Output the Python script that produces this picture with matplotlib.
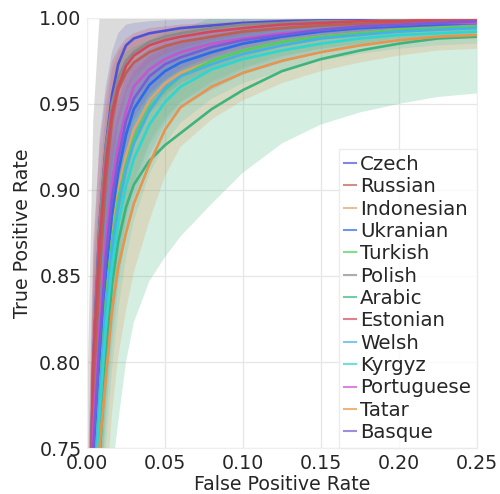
import matplotlib
matplotlib.use("Agg")
import matplotlib.pyplot as plt
import numpy as np

FPR = [0.0, 0.004, 0.008, 0.012, 0.016, 0.02, 0.025, 0.03, 0.04, 0.05, 0.06, 0.08, 0.1, 0.125, 0.15, 0.175, 0.2, 0.225, 0.25]

LANGUAGES = ["Czech", "Russian", "Indonesian", "Ukranian", "Turkish", "Polish", "Arabic",
             "Estonian", "Welsh", "Kyrgyz", "Portuguese", "Tatar", "Basque"]
COLORS = ["#4f52d6", "#b8634f", "#e0a468", "#2f6ae8", "#4fcf5f", "#8a8a8a", "#3db47e",
          "#d04a5e", "#45b2e6", "#2ed6d0", "#c855cc", "#e6944e", "#7a5cd6"]

TPR_CZECH      = [0.62, 0.80, 0.88, 0.925, 0.955, 0.973, 0.984, 0.988, 0.991, 0.9925, 0.994, 0.9955, 0.997, 0.998, 0.9985, 0.999, 0.999, 0.999, 0.999]
TPR_RUSSIAN    = [0.60, 0.78, 0.85, 0.905, 0.940, 0.958, 0.968, 0.974, 0.980, 0.9835, 0.986, 0.989, 0.992, 0.994, 0.9955, 0.9965, 0.997, 0.9975, 0.998]
TPR_INDONESIAN = [0.55, 0.73, 0.79, 0.840, 0.875, 0.900, 0.920, 0.935, 0.952, 0.962, 0.968, 0.975, 0.981, 0.986, 0.989, 0.991, 0.993, 0.994, 0.995]
TPR_UKRANIAN   = [0.56, 0.74, 0.80, 0.850, 0.885, 0.910, 0.932, 0.947, 0.961, 0.969, 0.974, 0.980, 0.985, 0.989, 0.992, 0.994, 0.995, 0.996, 0.997]
TPR_TURKISH    = [0.55, 0.72, 0.78, 0.835, 0.870, 0.895, 0.915, 0.930, 0.948, 0.958, 0.966, 0.975, 0.981, 0.986, 0.989, 0.991, 0.993, 0.994, 0.995]
TPR_POLISH     = [0.62, 0.80, 0.88, 0.925, 0.950, 0.965, 0.975, 0.980, 0.986, 0.989, 0.991, 0.994, 0.996, 0.997, 0.998, 0.998, 0.999, 0.999, 0.999]
TPR_ARABIC     = [0.52, 0.68, 0.745, 0.800, 0.845, 0.870, 0.890, 0.903, 0.917, 0.926, 0.933, 0.947, 0.958, 0.969, 0.976, 0.981, 0.985, 0.988, 0.989]
TPR_ESTONIAN   = [0.62, 0.80, 0.87, 0.915, 0.945, 0.960, 0.972, 0.978, 0.984, 0.987, 0.989, 0.992, 0.994, 0.996, 0.997, 0.998, 0.998, 0.999, 0.999]
TPR_WELSH      = [0.55, 0.72, 0.78, 0.830, 0.865, 0.890, 0.912, 0.927, 0.946, 0.959, 0.966, 0.973, 0.979, 0.984, 0.988, 0.990, 0.992, 0.993, 0.994]
TPR_KYRGYZ     = [0.54, 0.71, 0.77, 0.820, 0.855, 0.880, 0.902, 0.918, 0.938, 0.951, 0.960, 0.970, 0.976, 0.981, 0.985, 0.988, 0.990, 0.991, 0.992]
TPR_PORTUGUESE = [0.58, 0.76, 0.82, 0.870, 0.905, 0.926, 0.946, 0.960, 0.970, 0.976, 0.980, 0.985, 0.988, 0.991, 0.993, 0.995, 0.996, 0.997, 0.997]
TPR_TATAR      = [0.53, 0.70, 0.75, 0.790, 0.830, 0.855, 0.875, 0.892, 0.915, 0.935, 0.948, 0.960, 0.968, 0.975, 0.980, 0.984, 0.987, 0.989, 0.990]
TPR_BASQUE     = [0.57, 0.75, 0.81, 0.860, 0.895, 0.918, 0.940, 0.953, 0.966, 0.973, 0.977, 0.983, 0.987, 0.990, 0.993, 0.995, 0.996, 0.997, 0.998]

STD_CZECH      = [0.08, 0.06, 0.05, 0.035, 0.025, 0.018, 0.012, 0.009, 0.007, 0.006, 0.005, 0.004, 0.003, 0.002, 0.002, 0.001, 0.001, 0.001, 0.001]
STD_RUSSIAN    = [0.09, 0.07, 0.055, 0.040, 0.030, 0.022, 0.017, 0.014, 0.011, 0.009, 0.008, 0.006, 0.005, 0.004, 0.003, 0.003, 0.002, 0.002, 0.002]
STD_INDONESIAN = [0.10, 0.08, 0.070, 0.060, 0.050, 0.042, 0.035, 0.030, 0.024, 0.020, 0.017, 0.014, 0.011, 0.009, 0.007, 0.006, 0.005, 0.005, 0.004]
STD_UKRANIAN   = [0.10, 0.08, 0.065, 0.055, 0.045, 0.035, 0.028, 0.022, 0.017, 0.014, 0.012, 0.010, 0.008, 0.006, 0.005, 0.004, 0.004, 0.003, 0.003]
STD_TURKISH    = [0.10, 0.08, 0.070, 0.060, 0.050, 0.040, 0.033, 0.028, 0.022, 0.018, 0.015, 0.012, 0.010, 0.008, 0.007, 0.006, 0.005, 0.005, 0.004]
STD_POLISH     = [0.15, 0.14, 0.120, 0.090, 0.070, 0.055, 0.045, 0.038, 0.030, 0.025, 0.021, 0.016, 0.012, 0.009, 0.007, 0.006, 0.005, 0.004, 0.004]
STD_ARABIC     = [0.12, 0.10, 0.110, 0.110, 0.110, 0.105, 0.090, 0.080, 0.070, 0.065, 0.060, 0.055, 0.048, 0.042, 0.038, 0.036, 0.035, 0.034, 0.033]
STD_ESTONIAN   = [0.09, 0.07, 0.055, 0.040, 0.030, 0.022, 0.016, 0.013, 0.010, 0.008, 0.007, 0.005, 0.004, 0.003, 0.003, 0.002, 0.002, 0.002, 0.001]
STD_WELSH      = [0.10, 0.09, 0.075, 0.065, 0.055, 0.045, 0.038, 0.032, 0.026, 0.021, 0.018, 0.015, 0.012, 0.010, 0.008, 0.007, 0.006, 0.006, 0.005]
STD_KYRGYZ     = [0.10, 0.09, 0.080, 0.070, 0.060, 0.050, 0.042, 0.036, 0.029, 0.024, 0.021, 0.017, 0.014, 0.012, 0.010, 0.009, 0.008, 0.007, 0.007]
STD_PORTUGUESE = [0.09, 0.08, 0.065, 0.050, 0.040, 0.032, 0.025, 0.020, 0.015, 0.012, 0.010, 0.008, 0.006, 0.005, 0.004, 0.003, 0.003, 0.002, 0.002]
STD_TATAR      = [0.10, 0.09, 0.080, 0.070, 0.060, 0.052, 0.045, 0.040, 0.033, 0.027, 0.023, 0.019, 0.016, 0.013, 0.011, 0.010, 0.009, 0.008, 0.008]
STD_BASQUE     = [0.09, 0.08, 0.065, 0.052, 0.042, 0.034, 0.027, 0.022, 0.016, 0.013, 0.011, 0.009, 0.007, 0.005, 0.004, 0.004, 0.003, 0.003, 0.002]

TPRS = [TPR_CZECH, TPR_RUSSIAN, TPR_INDONESIAN, TPR_UKRANIAN, TPR_TURKISH, TPR_POLISH, TPR_ARABIC,
        TPR_ESTONIAN, TPR_WELSH, TPR_KYRGYZ, TPR_PORTUGUESE, TPR_TATAR, TPR_BASQUE]
STDS = [STD_CZECH, STD_RUSSIAN, STD_INDONESIAN, STD_UKRANIAN, STD_TURKISH, STD_POLISH, STD_ARABIC,
        STD_ESTONIAN, STD_WELSH, STD_KYRGYZ, STD_PORTUGUESE, STD_TATAR, STD_BASQUE]

FS = 13.7
TXT = "#262626"

fig = plt.figure(figsize=(5.0, 4.94), dpi=100)
ax = fig.add_axes([0.174, 0.093, 0.78, 0.871])
ax.set_facecolor("white")

x = np.array(FPR)
for name, col, tpr, std in zip(LANGUAGES, COLORS, TPRS, STDS):
    m = np.array(tpr)
    s = np.array(std)
    a = 0.3 if name == "Polish" else 0.22
    ax.fill_between(x, m - s, np.minimum(m + s, 1.0), color=col, alpha=a, linewidth=0)
for name, col, tpr in zip(LANGUAGES, COLORS, TPRS):
    ax.plot(x, tpr, color=col, linewidth=1.9, label=name)

ax.set_xlim(0.0, 0.25)
ax.set_ylim(0.75, 1.0)
ax.set_xticks([0.0, 0.05, 0.10, 0.15, 0.20, 0.25])
ax.set_yticks([0.75, 0.80, 0.85, 0.90, 0.95, 1.00])
ax.set_xticklabels(["0.00", "0.05", "0.10", "0.15", "0.20", "0.25"])
ax.set_yticklabels(["0.75", "0.80", "0.85", "0.90", "0.95", "1.00"])
ax.grid(True, color="#e6e6e6", linewidth=0.9)
ax.set_axisbelow(True)
for sp in ax.spines.values():
    sp.set_color("#eeeeee")
    sp.set_linewidth(0.8)
ax.tick_params(axis="both", length=0, pad=4, labelsize=FS, labelcolor=TXT)
ax.set_xlabel("False Positive Rate", fontsize=FS, color=TXT, labelpad=2)
ax.set_ylabel("True Positive Rate", fontsize=FS, color=TXT, labelpad=5)

leg = ax.legend(loc="lower right", fontsize=14.2, labelspacing=0.17, handlelength=0.6,
                handletextpad=0.2, borderpad=0.3, borderaxespad=0.0, frameon=True,
                framealpha=0.8, edgecolor="#e8e8e8", fancybox=False)
for t in leg.get_texts():
    t.set_color(TXT)
for h in leg.get_lines():
    h.set_linewidth(1.5)
    h.set_alpha(0.7)

fig.savefig("out.png", dpi=100)
